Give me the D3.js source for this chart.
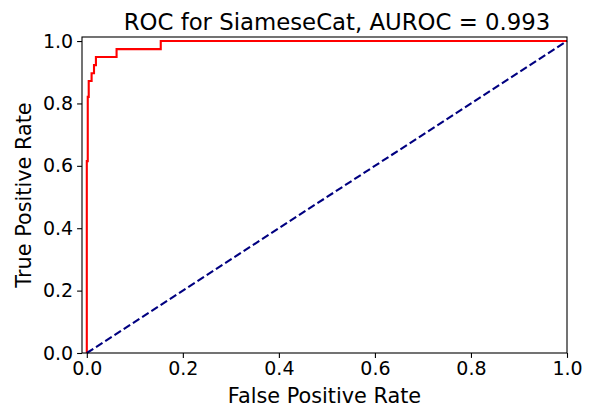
<!DOCTYPE html>
<html><head><meta charset="utf-8">
<script src="https://cdn.jsdelivr.net/npm/d3@7"></script>
<style>body{margin:0;background:#fff}svg{display:block}text{font-family:"DejaVu Sans",sans-serif;fill:#000}</style>
</head><body>
<script>
const fpr = [0, 0, 0.002, 0.002, 0.004, 0.004, 0.010, 0.010, 0.015, 0.015, 0.019, 0.019, 0.062, 0.062, 0.154, 0.154, 1.0];
const tpr = [0, 0.615, 0.615, 0.821, 0.821, 0.872, 0.872, 0.897, 0.897, 0.923, 0.923, 0.949, 0.949, 0.974, 0.974, 1.0, 1.0];
const diagX = [0, 1];
const diagY = [0, 1];
const tickVals = [0, 0.2, 0.4, 0.6, 0.8, 1.0];
const title = "ROC for SiameseCat, AUROC = 0.993";
const xLabel = "False Positive Rate";
const yLabel = "True Positive Rate";

const W = 593, H = 410;
const L = 82, R = 567, T = 37, B = 353;
const svg = d3.select("body").append("svg").attr("width", W).attr("height", H);
const x = d3.scaleLinear().domain([-0.01, 1.0]).range([L, R]);
const y = d3.scaleLinear().domain([0, 1.013]).range([B, T]);

const line = d3.line().x(d => x(d[0])).y(d => y(d[1]));
svg.append("path").datum(d3.zip(fpr, tpr)).attr("d", line)
  .attr("fill", "none").attr("stroke", "#ff0000").attr("stroke-width", 2.1);
svg.append("path").datum(d3.zip(diagX, diagY)).attr("d", line)
  .attr("fill", "none").attr("stroke", "#000080").attr("stroke-width", 2.1)
  .attr("stroke-dasharray", "7.7,3.3");

const xAxis = svg.append("g").attr("transform", `translate(0,${B})`)
  .call(d3.axisBottom(x).tickValues(tickVals).tickFormat(d3.format(".1f")).tickSizeInner(4.9).tickSizeOuter(0).tickPadding(4));
const yAxis = svg.append("g").attr("transform", `translate(${L},0)`)
  .call(d3.axisLeft(y).tickValues(tickVals).tickFormat(d3.format(".1f")).tickSizeInner(4.9).tickSizeOuter(0).tickPadding(4));
[xAxis, yAxis].forEach(g => {
  g.select(".domain").remove();
  g.selectAll("line").attr("stroke", "#000").attr("stroke-width", 1.1);
  g.selectAll("text").attr("font-size", 19).attr("font-family", "DejaVu Sans").attr("fill", "#000");
});
svg.append("rect").attr("x", L).attr("y", T).attr("width", R - L).attr("height", B - T)
  .attr("fill", "none").attr("stroke", "#000").attr("stroke-width", 1.1);

svg.append("text").attr("x", 337).attr("y", 30).attr("text-anchor", "middle")
  .attr("font-size", 22.8).text(title);
svg.append("text").attr("x", (L + R) / 2).attr("y", 403).attr("text-anchor", "middle")
  .attr("font-size", 20.8).text(xLabel);
svg.append("text").attr("transform", `translate(31,${(T + B) / 2}) rotate(-90)`).attr("text-anchor", "middle")
  .attr("font-size", 20.8).text(yLabel);
</script>
</body></html>
